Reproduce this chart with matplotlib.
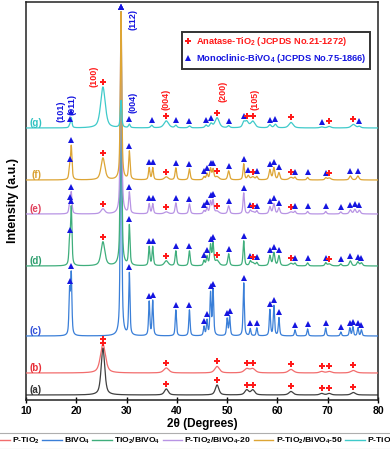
import numpy as np
import matplotlib
matplotlib.use('Agg')
import matplotlib.pyplot as plt
from matplotlib.lines import Line2D

plt.rcParams['font.family'] = ['Liberation Sans', 'DejaVu Sans']
plt.rcParams['font.weight'] = 'bold'
plt.rcParams['mathtext.fontset'] = 'custom'
plt.rcParams['mathtext.rm'] = 'Liberation Sans:bold'
plt.rcParams['mathtext.bf'] = 'Liberation Sans:bold'
plt.rcParams['mathtext.it'] = 'Liberation Sans:bold'

# ---------------- data (peak tables) ----------------
sample_tags = ['(a)', '(b)', '(c)', '(d)', '(e)', '(f)', '(g)']
sample_names = ['TiO$_2$', 'P-TiO$_2$', 'BiVO$_4$', 'TiO$_2$/BiVO$_4$',
                'P-TiO$_2$/BiVO$_4$-20', 'P-TiO$_2$/BiVO$_4$-50', 'P-TiO$_2$/BiVO$_4$-80']

# phase codes: A = anatase (marked), B = BiVO4 (marked), b = BiVO4 (unmarked)
# (a) TiO2
a_pos = [25.3, 37.9, 48.0, 53.9, 55.1, 62.7, 68.8, 70.3, 75.1]
a_h   = [47, 6, 10, 5, 5, 3.5, 1.5, 1.5, 2.5]
a_w   = [0.42, 0.45, 0.42, 0.45, 0.45, 0.5, 0.45, 0.45, 0.5]
a_ph  = ['A'] * 9

# (b) P-TiO2
b_pos = [25.3, 37.9, 48.0, 53.9, 55.1, 62.7, 68.8, 70.3, 75.1]
b_h   = [29, 5, 6.5, 4, 4, 3.5, 1.5, 1.5, 2.5]
b_w   = [0.6, 0.6, 0.55, 0.6, 0.6, 0.6, 0.5, 0.5, 0.6]
b_ph  = ['A'] * 9

# (c) BiVO4
c_pos = [18.67, 19.0, 28.9, 30.55, 34.5, 35.2, 39.8, 42.5, 45.4, 46.0, 46.7, 47.2,
         50.0, 50.5, 53.3, 54.6, 55.9, 58.5, 59.3, 60.3, 63.5, 66.0, 69.6, 72.6,
         74.4, 75.0, 76.0, 76.7]
c_h   = [43, 60, 324, 62, 34, 35, 26, 26, 9, 15, 42, 45,
         17, 19, 53, 7, 8, 26, 30, 18, 6, 7, 8, 4,
         8, 9, 8, 6]
c_w   = [0.15] * 28
c_ph  = ['B'] * 28

# (d) TiO2/BiVO4
d_pos = [18.67, 19.0, 25.3, 28.9, 30.55, 34.5, 35.2, 37.9, 39.8, 42.5, 45.4, 46.0,
         46.7, 47.2, 48.0, 50.3, 53.3, 54.6, 55.1, 55.9, 58.5, 59.3, 60.3, 62.7,
         63.5, 66.0, 69.6, 70.3, 72.6, 74.5, 76.0, 76.7]
d_h   = [23, 57, 24, 254, 40, 19, 19, 5, 15, 15, 5, 9,
         20, 21, 5, 12, 25, 4, 3, 3, 10, 13, 10, 2.5,
         2.5, 3, 3, 2, 2, 5, 4, 3]
d_w   = [0.16, 0.16, 0.45, 0.16, 0.16, 0.16, 0.16, 0.45, 0.18, 0.18, 0.18, 0.18,
         0.18, 0.18, 0.45, 0.2, 0.16, 0.2, 0.4, 0.2, 0.22, 0.22, 0.22, 0.45,
         0.2, 0.2, 0.2, 0.4, 0.2, 0.25, 0.25, 0.25]
d_ph  = ['B', 'B', 'A', 'B', 'B', 'B', 'B', 'A', 'B', 'B', 'B', 'B',
         'B', 'B', 'A', 'B', 'B', 'B', 'A', 'B', 'B', 'B', 'B', 'A',
         'B', 'B', 'B', 'A', 'B', 'B', 'B', 'B']

# (e) P-TiO2/BiVO4-20
e_pos = [18.67, 19.0, 25.3, 28.9, 30.55, 34.5, 35.2, 37.9, 39.8, 42.5, 45.4, 46.0,
         46.7, 47.2, 48.0, 50.3, 53.3, 54.6, 55.1, 55.9, 58.5, 59.3, 60.3, 62.7,
         63.5, 66.0, 69.6, 72.6, 74.5, 75.4, 76.3]
e_h   = [9, 21, 5, 202, 21, 10, 10, 2, 11, 10, 3, 6,
         12, 13, 2.5, 8, 21, 3, 2, 3, 7, 10, 6, 2,
         2.5, 2.5, 2.5, 2, 4, 4.5, 3.5]
e_w   = [0.17, 0.17, 0.45, 0.17, 0.17, 0.17, 0.17, 0.45, 0.19, 0.19, 0.19, 0.19,
         0.19, 0.19, 0.45, 0.22, 0.17, 0.2, 0.4, 0.2, 0.22, 0.22, 0.22, 0.45,
         0.2, 0.2, 0.2, 0.2, 0.25, 0.25, 0.25]
e_ph  = ['B', 'B', 'A', 'B', 'B', 'B', 'B', 'A', 'B', 'B', 'B', 'B',
         'B', 'B', 'A', 'B', 'B', 'B', 'A', 'B', 'B', 'B', 'B', 'A',
         'B', 'B', 'B', 'B', 'B', 'B', 'B']

# (f) P-TiO2/BiVO4-50
f_pos = [18.67, 19.0, 25.3, 28.9, 30.55, 34.5, 35.2, 37.9, 39.8, 42.5, 45.4, 46.0,
         46.7, 47.2, 48.0, 50.3, 53.3, 54.2, 55.1, 55.9, 58.5, 59.3, 60.3, 62.7,
         63.5, 66.0, 69.6, 70.3, 74.5, 76.0]
f_h   = [11, 33, 22, 168, 28, 12, 12, 3, 12, 11, 3, 6,
         11, 10, 3, 9, 16, 4, 3, 3, 10, 12, 7, 2.5,
         2.5, 2.5, 2, 2, 4, 4]
f_w   = [0.17, 0.17, 0.45, 0.17, 0.17, 0.17, 0.17, 0.45, 0.19, 0.19, 0.19, 0.19,
         0.19, 0.19, 0.45, 0.22, 0.17, 0.25, 0.4, 0.2, 0.22, 0.22, 0.22, 0.45,
         0.2, 0.2, 0.2, 0.4, 0.25, 0.25]
f_ph  = ['B', 'B', 'A', 'B', 'B', 'B', 'B', 'A', 'B', 'B', 'B', 'B',
         'B', 'B', 'A', 'B', 'B', 'B', 'A', 'B', 'B', 'B', 'B', 'A',
         'B', 'B', 'B', 'A', 'B', 'B']

# (g) P-TiO2/BiVO4-80
g_pos = [18.67, 19.0, 25.3, 28.9, 30.55, 35.0, 37.9, 39.8, 42.5, 45.8, 46.8, 48.0,
         50.3, 53.3, 53.9, 55.1, 58.5, 59.6, 62.7, 68.8, 70.3, 75.1, 76.3]
g_h   = [2, 10, 41, 27, 3.5, 2.5, 7, 2.5, 2, 2.5, 4, 10,
         2, 5, 6, 6.5, 3, 3.5, 5.5, 1, 1.5, 3.5, 1.5]
g_w   = [0.17, 0.17, 0.55, 0.17, 0.2, 0.25, 0.55, 0.25, 0.25, 0.25, 0.3, 0.5,
         0.25, 0.3, 0.4, 0.5, 0.3, 0.3, 0.5, 0.4, 0.4, 0.5, 0.3]
g_ph  = ['B', 'B', 'A', 'b', 'B', 'B', 'A', 'B', 'B', 'B', 'B', 'A',
         'B', 'B', 'A', 'A', 'B', 'B', 'A', 'B', 'A', 'A', 'B']

# Miller-index annotations
hkl_text  = ['(101)', '(011)', '(100)', '(112)', '(004)', '(004)', '(200)', '(105)']
hkl_theta = [17.0, 19.1, 23.5, 31.2, 31.2, 37.8, 49.1, 55.5]
hkl_level = [278, 285, 313, 370, 287, 290, 298, 290]
hkl_phase = ['B', 'B', 'A', 'B', 'B', 'A', 'A', 'A']

# ---------------- styling / layout ----------------
offsets = [5, 27, 64, 134, 186, 220, 272]
line_colors = ['#404040', '#F26D6D', '#3A7FD8', '#3FAE7C', '#B894E4', '#DDA535', '#3FCACA']
tag_colors = ['#333333', '#E8303A', '#2F4FD8', '#2E9E6E', '#E0405C', '#D9A030', '#30C2C2']
phase_color = {'A': '#FF1A1A', 'B': '#1515E0'}
phase_marker = {'A': 'P', 'B': '^'}

peaks = [(a_pos, a_h, a_w, a_ph), (b_pos, b_h, b_w, b_ph), (c_pos, c_h, c_w, c_ph),
         (d_pos, d_h, d_w, d_ph), (e_pos, e_h, e_w, e_ph), (f_pos, f_h, f_w, f_ph),
         (g_pos, g_h, g_w, g_ph)]

x = np.linspace(10, 80, 4000)


def profile(xx, pos, h, w):
    y = np.zeros_like(xx, dtype=float)
    for p, hh, ww in zip(pos, h, w):
        lor = ww ** 2 / ((xx - p) ** 2 + ww ** 2)
        gau = np.exp(-np.log(2) * ((xx - p) / ww) ** 2)
        y += hh * (0.6 * lor + 0.4 * gau)
    return y


fig = plt.figure(figsize=(3.9, 4.49), dpi=100)
ax = fig.add_axes([26 / 390, 49 / 449, 352 / 390, 398 / 449])

for i, (pos, h, w, ph) in enumerate(peaks):
    y = offsets[i] + profile(x, pos, h, w)
    ax.plot(x, y, color=line_colors[i], lw=0.9, zorder=2 + i)
    for p, phase in zip(pos, ph):
        if phase not in phase_marker:
            continue
        yp = offsets[i] + profile(np.array([p]), pos, h, w)[0] + 5
        ax.plot(p, yp, marker=phase_marker[phase], color=phase_color[phase],
                ms=3.8 if phase == 'B' else 4.0, mew=0, ls='none', zorder=20)
    ax.text(12.0, offsets[i] + 5, sample_tags[i], color=tag_colors[i],
            fontsize=7, fontweight='bold', ha='center', va='center', zorder=25)

for t, xt, yt, phs in zip(hkl_text, hkl_theta, hkl_level, hkl_phase):
    ax.text(xt, yt, t, rotation=90, ha='center', va='bottom', fontsize=6.5,
            fontweight='bold', color=phase_color[phs], zorder=25)

ax.set_xlim(10, 80)
ax.set_ylim(0, 398)
ax.set_xticks(np.arange(10, 81, 10))
ax.set_yticks([])
ax.tick_params(axis='x', direction='inout', length=5, width=1, labelsize=7.5, pad=2)
for lab in ax.get_xticklabels():
    lab.set_fontweight('bold')
for s in ax.spines.values():
    s.set_linewidth(1.1)
    s.set_color('#222222')
ax.set_xlabel('2θ (Degrees)', fontsize=8.5, fontweight='bold', labelpad=1)
ax.set_ylabel('Intensity (a.u.)', fontsize=9, fontweight='bold', labelpad=5)

# phase legend
ph_handles = [Line2D([], [], marker='P', color=phase_color['A'], ls='none', ms=4.2, mew=0),
              Line2D([], [], marker='^', color=phase_color['B'], ls='none', ms=4.2, mew=0)]
ph_labels = ['Anatase-TiO$_2$ (JCPDS No.21-1272)', 'Monoclinic-BiVO$_4$ (JCPDS No.75-1866)']
leg = ax.legend(ph_handles, ph_labels, loc='upper right', bbox_to_anchor=(0.976, 0.925),
                fontsize=6.7, frameon=True, fancybox=False, edgecolor='black',
                handlelength=0.7, handletextpad=0.45, borderpad=0.35, labelspacing=0.45,
                borderaxespad=0)
leg.get_frame().set_linewidth(1.4)
for txt, c in zip(leg.get_texts(), [phase_color['A'], phase_color['B']]):
    txt.set_color(c)
    txt.set_fontweight('bold')

# sample legend strip at the bottom (overflows the figure like the original)
s_handles = [Line2D([], [], color=c, lw=1.0) for c in line_colors]
sleg = fig.legend(s_handles, sample_names, loc='center left', bbox_to_anchor=(-0.155, 0.018),
                  ncol=7, fontsize=6.1, frameon=True, fancybox=False, edgecolor='#9a9a9a',
                  handlelength=2.3, handletextpad=0.25, columnspacing=0.3, borderpad=0.35)
sleg.get_frame().set_linewidth(0.8)

fig.savefig('out.png', dpi=100)
